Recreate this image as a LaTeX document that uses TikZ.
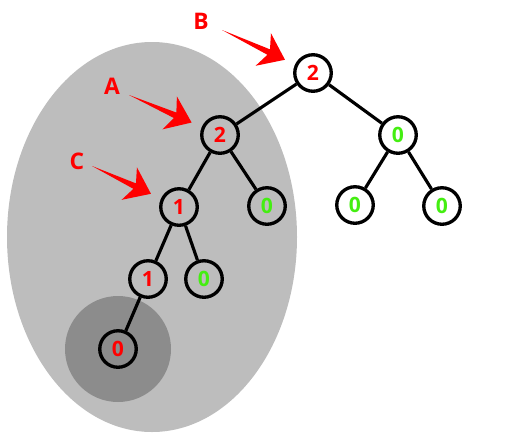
\documentclass[tikz,border=0pt]{standalone}
\usepackage{fontspec}
\usepackage{xcolor}
\usetikzlibrary{positioning, calc, backgrounds}

\newfontfamily\treefont{Open Sans}
\definecolor{zonegray}{HTML}{BDBDBD}
\definecolor{leafgray}{HTML}{8C8C8C}
\definecolor{okgreen}{HTML}{44EE11}

% tapered red pointer: #1 tail coordinate, #2 target node
\newcommand{\pointer}[2]{%
  \path ($(#2)!0.62cm!(#1)$) coordinate (#1-tip)
        ($(#1-tip)!0.48cm!(#1)$) coordinate (#1-base)
        ($(#1-tip)!0.36cm!(#1)$) coordinate (#1-neck);
  \fill[pointerfill] (#1) -- ($(#1-neck)!0.06cm!90:(#1)$) -- ($(#1-base)!0.36cm!90:(#1)$)
    -- (#1-tip) -- ($(#1-base)!0.36cm!-90:(#1)$) -- ($(#1-neck)!0.06cm!-90:(#1)$) -- cycle;
}

\begin{document}
\begin{tikzpicture}[
    node distance=1.24cm and 1.86cm, on grid,
    tnode/.style={circle, draw=black, line width=1.9pt, minimum size=0.73cm, inner sep=0pt, font={\treefont\fontsize{12}{14}\selectfont\bfseries}},
    hot/.style={tnode, text=red},
    cold/.style={tnode, text=okgreen},
    edge/.style={line width=1.8pt, color=black},
    tag/.style={text=red, inner sep=0pt, font={\treefont\fontsize{13}{15}\selectfont\bfseries}},
    pointerfill/.style={fill=red}
]
\useasboundingbox (0,0) rectangle (10.34,-8.92);

% Tree
\node[hot] (root) at (6.26,-1.46) {2};
\node[hot, below left=1.24cm and 1.86cm of root] (a) {2};
\node[cold, below right=1.24cm and 1.7cm of root] (r) {0};
\node[hot, below left=1.44cm and 0.82cm of a] (c) {1};
\node[cold, below right=1.42cm and 0.94cm of a] (ar) {0};
\node[cold, below left=1.4cm and 0.86cm of r] (rl) {0};
\node[cold, below right=1.42cm and 0.88cm of r] (rr) {0};
\node[hot, below left=1.44cm and 0.62cm of c] (cl) {1};
\node[cold, below right=1.44cm and 0.5cm of c] (cr) {0};
\node[hot, below left=1.4cm and 0.6cm of cl] (leaf) {0};

% Shaded zones
\begin{scope}[on background layer]
  \fill[zonegray] (3.04,-4.74) ellipse [x radius=2.9cm, y radius=3.9cm];
  \fill[leafgray] (leaf) circle [radius=1.06cm];
\end{scope}

% Edges
\draw[edge] (root) -- (a);
\draw[edge] (root) -- (r);
\draw[edge] (a) -- (c);
\draw[edge] (a) -- (ar);
\draw[edge] (r) -- (rl);
\draw[edge] (r) -- (rr);
\draw[edge] (c) -- (cl);
\draw[edge] (c) -- (cr);
\draw[edge] (cl) -- (leaf);

% Labels and pointers
\node[tag] (labB) at (4.02,-0.42) {B};
\node[tag] (labA) at (2.24,-1.72) {A};
\node[tag] (labC) at (1.54,-3.22) {C};
\coordinate (tailB) at (4.44,-0.60);
\coordinate (tailA) at (2.58,-1.90);
\coordinate (tailC) at (1.84,-3.32);
\pointer{tailB}{root}
\pointer{tailA}{a}
\pointer{tailC}{c}

\end{tikzpicture}
\end{document}
